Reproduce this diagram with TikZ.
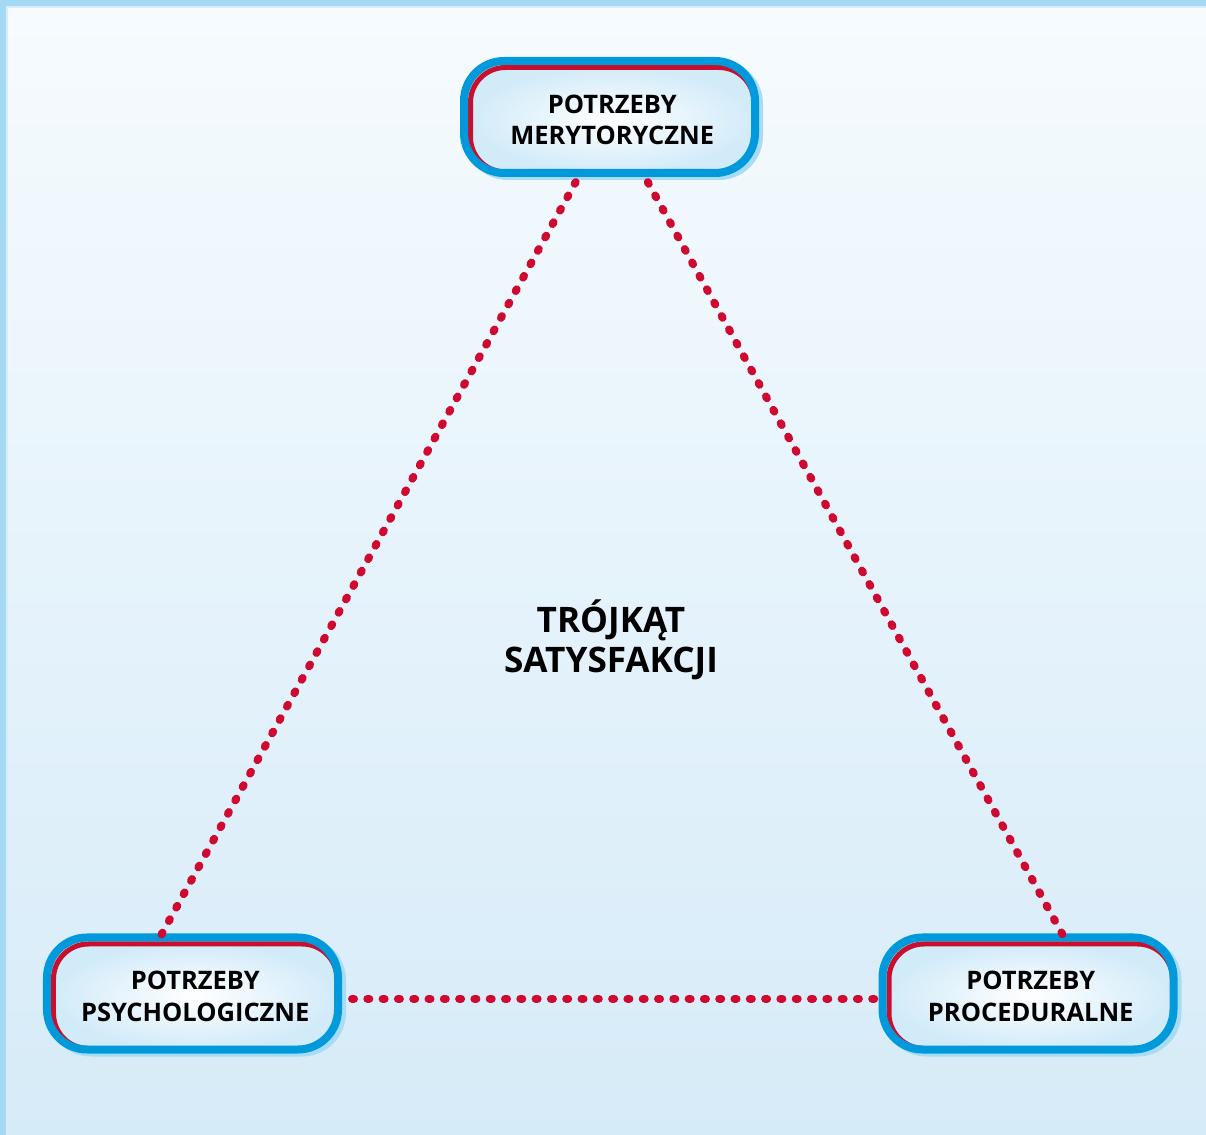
\documentclass[tikz,border=0pt]{standalone}
\usepackage{fontspec}
\setmainfont{Open Sans}
\usetikzlibrary{backgrounds}

\definecolor{frameblue}{HTML}{A3D9F2}
\definecolor{bgtop}{HTML}{F6FBFE}
\definecolor{bgbottom}{HTML}{D6EBF8}
\definecolor{rimblue}{HTML}{0099DB}
\definecolor{shadowblue}{HTML}{A8DCF4}
\definecolor{needred}{HTML}{C8102E}
\definecolor{dotred}{HTML}{CE0A30}
\definecolor{boxfill}{HTML}{D2EBF9}

\begin{document}
\begin{tikzpicture}[
  x=0.2mm, y=-0.2mm,
  % inner box of each need: red edge, soft fill
  needbox/.style={
    rectangle, rounded corners=7mm, draw=needred, line width=1mm,
    outer sep=0pt, inner color=white, outer color=boxfill,
    minimum width=56.7mm, minimum height=20.9mm, align=center,
    font=\bfseries\fontsize{14.5}{18}\selectfont
  },
  rim/.style={draw=rimblue, line width=1.6mm, rounded corners=8mm},
  rimshadow/.style={draw=shadowblue, line width=1.6mm, rounded corners=8mm},
  dotline/.style={
    draw=dotred, line width=1.6mm, line cap=round,
    dash pattern=on 0.4mm off 2.66mm
  },
  title/.style={align=center, font=\bfseries\fontsize{20}{23}\selectfont},
]

% ---------------------------------------------------------------
% Canvas, 1206 x 1135 units, y pointing down
% ---------------------------------------------------------------
\useasboundingbox (0,0) rectangle (1206,1135);
\begin{pgfonlayer}{background}
  \fill[top color=bgtop, bottom color=bgbottom] (0,0) rectangle (1206,1135);
  \fill[frameblue] (0,0) rectangle (1206,6);
  \fill[frameblue] (0,0) rectangle (6,1135);
  \fill[frameblue!45] (6,6) rectangle (8,1135);
  \fill[frameblue!45] (8,6) rectangle (1206,8);
\end{pgfonlayer}

% --- The three needs ---
\node[needbox] (merit) at (612.25,119.75) {POTRZEBY\\MERYTORYCZNE};
\node[needbox] (psych) at (195.25,996.25) {POTRZEBY\\PSYCHOLOGICZNE};
\node[needbox] (proc)  at (1030.75,996.25) {POTRZEBY\\PROCEDURALNE};

% Blue rim and its pale shadow round every box
\foreach \n in {merit,psych,proc} {
  \begin{pgfonlayer}{background}
    \draw[rimshadow] ([shift={(-2.5,-3.5)}]\n.north west)
      rectangle ([shift={(5,4)}]\n.south east);
  \end{pgfonlayer}
  \draw[rim] ([shift={(-6.5,-6.5)}]\n.north west)
    rectangle ([shift={(1,1)}]\n.south east);
}

% --- Title in the middle ---
\node[title] (tri) at (611,640) {TRÓJKĄT\\SATYSFAKCJI};

% --- Dotted sides of the triangle ---
\draw[dotline, shorten <=2.3mm, shorten >=2.2mm]
  ([shift={(-31,0)}]merit.south) -- ([shift={(-39,0)}]psych.north);
\draw[dotline, shorten <=2.3mm, shorten >=2.2mm]
  ([shift={(30,0)}]merit.south) -- ([shift={(37,0)}]proc.north);
\draw[dotline, shorten <=3.0mm, shorten >=2.6mm]
  ([shift={(0,2.5)}]psych.east) -- ([shift={(0,2.5)}]proc.west);

\end{tikzpicture}
\end{document}
